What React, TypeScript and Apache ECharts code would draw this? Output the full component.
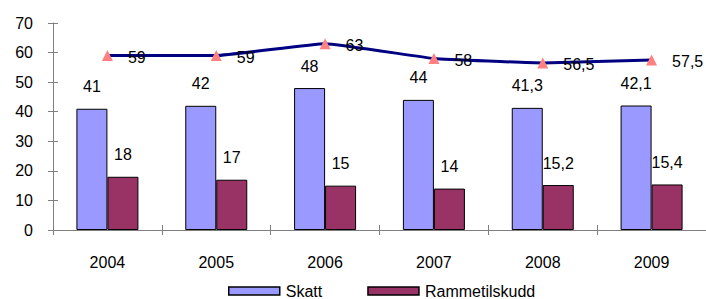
import React, { useEffect, useRef } from "react";
import * as echarts from "echarts";

const years = ["2004", "2005", "2006", "2007", "2008", "2009"];
const skatt = [41, 42, 48, 44, 41.3, 42.1];
const rammetilskudd = [18, 17, 15, 14, 15.2, 15.4];
const lineValues = [59, 59, 63, 58, 56.5, 57.5];

const fmt = (v: number) => String(v).replace(".", ",");
const FONT = "Liberation Sans, Arial, sans-serif";

export default function App() {
  const ref = useRef<HTMLDivElement>(null);
  useEffect(() => {
    const chart = echarts.init(ref.current!, null, { renderer: "svg" });
    const axisColor = "#7f7f7f";
    chart.setOption({
      animation: false,
      textStyle: { fontFamily: FONT },
      grid: { left: 53, right: 0, top: 23, bottom: 69 },
      legend: {
        data: ["Skatt", "Rammetilskudd"],
        left: 228,
        top: 283,
        padding: 0,
        itemWidth: 51,
        itemHeight: 8,
        itemGap: 45,
        itemStyle: { borderColor: "#000", borderWidth: 1.5 },
        textStyle: { fontSize: 16, color: "#000", fontFamily: FONT, padding: [0, 0, 0, 1] },
        icon: "rect",
      },
      xAxis: [
        {
          type: "category",
          data: years,
          axisLine: { lineStyle: { color: axisColor, width: 1 } },
          axisTick: { show: true, length: 5, lineStyle: { color: axisColor } },
          axisLabel: { fontSize: 16, color: "#000", margin: 24, fontFamily: FONT },
        },
        {
          type: "category",
          data: years,
          position: "bottom",
          axisLine: { show: false },
          axisTick: { show: true, inside: true, length: 5, lineStyle: { color: axisColor } },
          axisLabel: { show: false },
        },
      ],
      yAxis: [
        {
          type: "value",
          min: 0,
          max: 70,
          interval: 10,
          splitLine: { show: false },
          axisLine: { show: true, lineStyle: { color: axisColor } },
          axisTick: { show: true, length: 5, lineStyle: { color: axisColor } },
          axisLabel: { fontSize: 16, color: "#000", margin: 20, fontFamily: FONT },
        },
        {
          type: "value",
          min: 0,
          max: 70,
          interval: 10,
          position: "left",
          splitLine: { show: false },
          axisLine: { show: false },
          axisTick: { show: true, inside: true, length: 5, lineStyle: { color: axisColor } },
          axisLabel: { show: false },
        },
      ],
      series: [
        {
          name: "Skatt",
          type: "bar",
          data: skatt,
          barWidth: 31,
          barGap: "0%",
          itemStyle: { color: "#9999FF", borderColor: "#000", borderWidth: 1 },
          label: {
            show: true,
            position: "top",
            distance: 14,
            fontSize: 16,
            color: "#000",
            fontFamily: FONT,
            formatter: (p: any) => fmt(p.value),
          },
        },
        {
          name: "Rammetilskudd",
          type: "bar",
          data: rammetilskudd,
          barWidth: 31,
          barGap: "0%",
          itemStyle: { color: "#993366", borderColor: "#000", borderWidth: 1 },
          label: {
            show: true,
            position: "top",
            distance: 14,
            fontSize: 16,
            color: "#000",
            fontFamily: FONT,
            formatter: (p: any) => fmt(p.value),
          },
        },
        {
          name: "Linje",
          type: "line",
          data: lineValues,
          smooth: 0.1,
          symbol: "triangle",
          symbolSize: 11,
          z: 5,
          lineStyle: { color: "#000080", width: 3 },
          itemStyle: { color: "#FF8080" },
          label: {
            show: true,
            position: "right",
            distance: 15,
            offset: [0, 2],
            fontSize: 16,
            color: "#000",
            fontFamily: FONT,
            formatter: (p: any) => fmt(p.value),
          },
        },
      ],
    });
    return () => chart.dispose();
  }, []);
  return (
    <div
      ref={ref}
      style={{ position: "fixed", left: 0, top: 0, width: 706, height: 299, background: "#fff" }}
    />
  );
}
